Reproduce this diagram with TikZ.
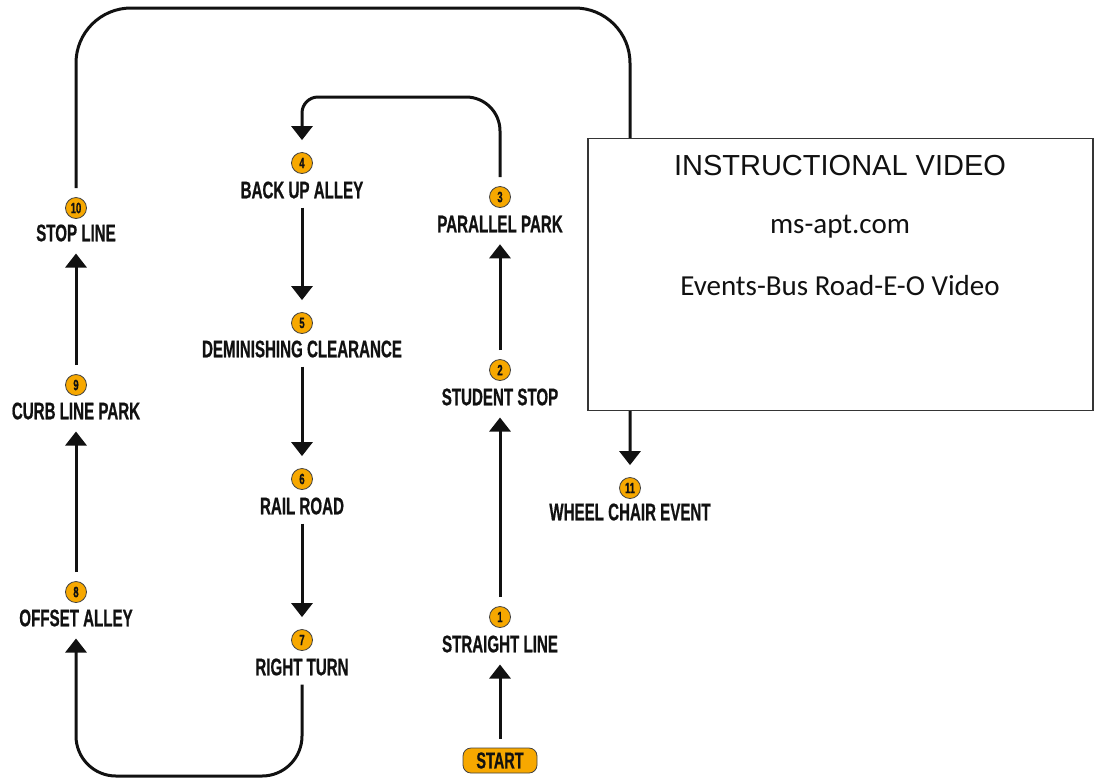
\documentclass[tikz,border=0pt]{standalone}
\usepackage{fontspec}
\newfontfamily\condf[FakeStretch=0.63,FakeBold=0.6]{Liberation Sans Bold}
\newfontfamily\arialf{Liberation Sans}
\newfontfamily\calib{Carlito}
\usetikzlibrary{arrows.meta}
\definecolor{amber}{HTML}{F7A800}
\definecolor{ink}{HTML}{111111}
\begin{document}
\begin{tikzpicture}[x=1pt,y=-1pt,
 lbl/.style={font=\condf\fontsize{24}{24}\selectfont, text=ink, inner sep=0pt, outer sep=0pt},
 num/.style={circle, fill=amber, draw=ink!80, line width=0.8pt, minimum size=21pt, inner sep=0pt, font=\condf\fontsize{15}{15}\selectfont, text=ink},
 arr/.style={line width=3pt, draw=ink, -{Triangle[width=21pt,length=14pt]}, shorten <=9pt, shorten >=12pt},
 startbox/.style={rounded corners=8pt, fill=amber, draw=ink!80, line width=0.8pt, minimum width=74pt, minimum height=25pt, inner sep=0pt, font=\condf\fontsize{23}{23}\selectfont, text=ink},
 infobox/.style={draw=ink!85, fill=white, line width=1.1pt, minimum width=505pt, minimum height=272pt, inner sep=0pt},
]
\useasboundingbox (0,0) rectangle (1099,780);

% steps
\node[num] (n1) at (500,617) {1};  \node[lbl] (l1) at (500,644) {STRAIGHT LINE};
\node[num] (n2) at (500,370) {2};  \node[lbl] (l2) at (500,397) {STUDENT STOP};
\node[num] (n3) at (500,197) {3};  \node[lbl] (l3) at (500,224) {PARALLEL PARK};
\node[num] (n4) at (302,163) {4};  \node[lbl] (l4) at (302,190) {BACK UP ALLEY};
\node[num] (n5) at (302,323) {5};  \node[lbl] (l5) at (302,349) {DEMINISHING CLEARANCE};
\node[num] (n6) at (302,479) {6};  \node[lbl] (l6) at (302,506) {RAIL ROAD};
\node[num] (n7) at (302,640) {7};  \node[lbl] (l7) at (302,667) {RIGHT TURN};
\node[num] (n8) at (76,592) {8};   \node[lbl] (l8) at (76,618) {OFFSET ALLEY};
\node[num] (n9) at (76,385) {9};   \node[lbl] (l9) at (76,411) {CURB LINE PARK};
\node[num] (n10) at (76,208) {10}; \node[lbl] (l10) at (76,233) {STOP LINE};
\node[num] (n11) at (630,488) {11}; \node[lbl] (l11) at (630,512) {WHEEL CHAIR EVENT};
\node[startbox] (start) at (500,760.5) {START};

% connectors
\draw[arr] (start.north) -- (l1.south);
\draw[arr] (n1.north) -- (l2.south);
\draw[arr] (n2.north) -- (l3.south);
\coordinate (t34) at (302,97);
\draw[arr] (n3.north) [rounded corners=34pt] -- (n3.north |- t34) [rounded corners=16pt] -- (t34) [sharp corners] -- (n4.north);
\draw[arr] (l4.south) -- (n5.north);
\draw[arr] (l5.south) -- (n6.north);
\draw[arr] (l6.south) -- (n7.north);
\coordinate (b78r) at (302,776);
\coordinate (b78l) at (76,776);
\draw[arr, rounded corners=40pt] (l7.south) -- (b78r) -- (b78l) -- (l8.south);
\draw[arr] (n8.north) -- (l9.south);
\draw[arr] (n9.north) -- (l10.south);
\coordinate (t10l) at (76,8);
\coordinate (t10r) at (630,8);
\draw[arr, rounded corners=55pt] (n10.north) -- (t10l) -- (t10r) -- (n11.north);

% info box
\node[infobox] (box) at (840.5,274.5) {};
\node[font=\arialf\fontsize{29}{29}\selectfont, text=ink] (v1) at (840,166) {INSTRUCTIONAL VIDEO};
\node[font=\calib\fontsize{29}{29}\selectfont, text=ink] (v2) at (840,227) {ms-apt.com};
\node[font=\calib\fontsize{29}{29}\selectfont, text=ink] (v3) at (840,286) {Events-Bus Road-E-O Video};
\end{tikzpicture}
\end{document}
